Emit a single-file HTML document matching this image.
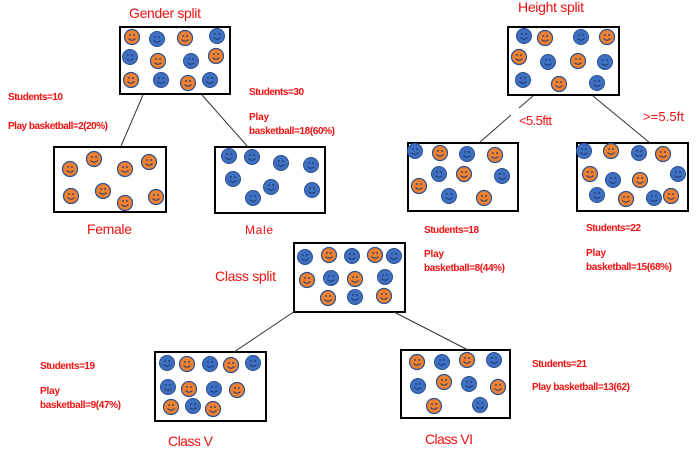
<!DOCTYPE html>
<html><head><meta charset="utf-8"><style>
html,body{margin:0;padding:0;background:#fff}
svg{display:block}
.t{font-family:"Liberation Sans",sans-serif;fill:#f01010}
.s{font-size:10px;font-weight:bold}
.l{font-size:14px}
</style></head><body>
<svg width="700" height="468" viewBox="0 0 700 468" xmlns="http://www.w3.org/2000/svg">
<defs>
<g id="b"><circle r="7.5" fill="#3f6fc1" stroke="#2a4f8f" stroke-width="1"/><circle cx="-2" cy="-2" r="0.9" fill="#1e3a6e"/><circle cx="2" cy="-2" r="0.9" fill="#1e3a6e"/><path d="M-3.5 1.5 Q0 5 3.5 1.5" fill="none" stroke="#1e3a6e" stroke-width="0.9"/></g>
<g id="o"><circle r="7.5" fill="#ee8132" stroke="#2a4f8f" stroke-width="1.2"/><circle cx="-2" cy="-2" r="0.9" fill="#1e3a6e"/><circle cx="2" cy="-2" r="0.9" fill="#1e3a6e"/><path d="M-3.5 1.5 Q0 5 3.5 1.5" fill="none" stroke="#1e3a6e" stroke-width="0.9"/></g>
</defs>
<g fill="none" stroke="#000" stroke-width="2">
<rect x="120" y="27" width="110" height="67"/>
<rect x="54" y="147" width="112" height="65"/>
<rect x="215" y="147" width="110" height="66"/>
<rect x="508" y="27" width="111" height="68"/>
<rect x="408" y="143" width="110" height="68"/>
<rect x="577" y="143" width="111" height="68"/>
<rect x="294" y="243" width="111" height="69"/>
<rect x="155" y="352" width="111" height="69"/>
<rect x="401" y="350" width="109" height="68"/>
</g>
<g stroke="#333" stroke-width="1">
<line x1="143" y1="95" x2="121" y2="146"/>
<line x1="202" y1="95" x2="248" y2="147"/>
<line x1="533" y1="96" x2="519" y2="108"/>
<line x1="511" y1="115" x2="479" y2="143"/>
<line x1="593" y1="96" x2="650" y2="143"/>
<line x1="295" y1="311" x2="234" y2="352"/>
<line x1="394" y1="312" x2="468" y2="350"/>
</g>
<use href="#o" x="132" y="37"/><use href="#b" x="157" y="39"/><use href="#o" x="185" y="38"/><use href="#b" x="217" y="36"/>
<use href="#b" x="130" y="57"/><use href="#o" x="158" y="61"/><use href="#b" x="191" y="61"/><use href="#o" x="216" y="56"/>
<use href="#o" x="131" y="80"/><use href="#b" x="161" y="80"/><use href="#o" x="188" y="83"/><use href="#b" x="210" y="80"/>
<use href="#o" x="70" y="169"/><use href="#o" x="94" y="159"/><use href="#o" x="125" y="169"/><use href="#o" x="149" y="162"/>
<use href="#o" x="71" y="196"/><use href="#o" x="103" y="191"/><use href="#o" x="125" y="203"/><use href="#o" x="156" y="197"/>
<use href="#b" x="229" y="156"/><use href="#b" x="252" y="157"/><use href="#b" x="281" y="163"/><use href="#b" x="311" y="165"/>
<use href="#b" x="233" y="179"/><use href="#b" x="271" y="187"/><use href="#b" x="253" y="198"/><use href="#b" x="312" y="190"/>
<use href="#b" x="524" y="36"/><use href="#o" x="545" y="38"/><use href="#b" x="581" y="37"/><use href="#o" x="607" y="37"/>
<use href="#o" x="519" y="57"/><use href="#b" x="548" y="62"/><use href="#o" x="578" y="61"/><use href="#b" x="605" y="62"/>
<use href="#b" x="523" y="80"/><use href="#o" x="559" y="84"/><use href="#b" x="597" y="83"/>
<use href="#b" x="415" y="151"/><use href="#o" x="440" y="153"/><use href="#b" x="467" y="154"/><use href="#o" x="495" y="155"/>
<use href="#b" x="439" y="174"/><use href="#o" x="464" y="174"/><use href="#b" x="502" y="176"/>
<use href="#o" x="419" y="186"/><use href="#b" x="449" y="196"/><use href="#o" x="484" y="198"/>
<use href="#b" x="584" y="151"/><use href="#o" x="611" y="151"/><use href="#b" x="639" y="153"/><use href="#o" x="663" y="154"/>
<use href="#o" x="590" y="174"/><use href="#b" x="613" y="180"/><use href="#o" x="640" y="180"/><use href="#b" x="678" y="174"/>
<use href="#b" x="597" y="195"/><use href="#o" x="626" y="199"/><use href="#b" x="654" y="198"/><use href="#o" x="671" y="196"/>
<use href="#b" x="305" y="257"/><use href="#o" x="329" y="255"/><use href="#b" x="352" y="256"/><use href="#o" x="375" y="255"/><use href="#b" x="394" y="256"/>
<use href="#o" x="307" y="280"/><use href="#b" x="331" y="278"/><use href="#o" x="355" y="279"/><use href="#b" x="385" y="277"/>
<use href="#o" x="328" y="298"/><use href="#b" x="355" y="297"/><use href="#o" x="384" y="296"/>
<use href="#b" x="167" y="363"/><use href="#o" x="187" y="364"/><use href="#b" x="210" y="364"/><use href="#o" x="231" y="365"/><use href="#b" x="253" y="363"/>
<use href="#b" x="168" y="387"/><use href="#o" x="189" y="389"/><use href="#b" x="214" y="389"/><use href="#o" x="237" y="390"/>
<use href="#o" x="171" y="407"/><use href="#b" x="193" y="406"/><use href="#o" x="213" y="409"/>
<use href="#o" x="417" y="362"/><use href="#b" x="442" y="362"/><use href="#o" x="467" y="360"/><use href="#b" x="494" y="360"/>
<use href="#b" x="418" y="386"/><use href="#o" x="444" y="382"/><use href="#b" x="469" y="384"/><use href="#o" x="498" y="387"/>
<use href="#o" x="434" y="406"/><use href="#b" x="480" y="405"/>

<text class="t l" x="129" y="18" textLength="72">Gender split</text>
<text class="t l" x="518" y="12" textLength="66">Height split</text>
<text class="t l" x="215" y="281" textLength="61">Class split</text>
<text class="t l" x="87" y="234" textLength="45">Female</text>
<text class="t" style="font-size:12px" x="245" y="234" textLength="28">Male</text>
<text class="t" style="font-size:13px" x="519" y="125" textLength="33">&lt;5.5ftt</text>
<text class="t" style="font-size:13px" x="643" y="121" textLength="41">&gt;=5.5ft</text>
<text class="t l" x="168" y="446" textLength="45">Class V</text>
<text class="t l" x="425" y="444" textLength="48">Class VI</text>

<text class="t s" x="8" y="100" textLength="55">Students=10</text>
<text class="t s" x="8" y="129" textLength="100">Play basketball=2(20%)</text>
<text class="t s" x="249" y="95" textLength="55">Students=30</text>
<text class="t s" x="249" y="120" textLength="20">Play</text>
<text class="t s" x="249" y="134" textLength="86">basketball=18(60%)</text>
<text class="t s" x="424" y="233" textLength="55">Students=18</text>
<text class="t s" x="424" y="257" textLength="20">Play</text>
<text class="t s" x="424" y="271" textLength="81">basketball=8(44%)</text>
<text class="t s" x="586" y="231" textLength="55">Students=22</text>
<text class="t s" x="586" y="256" textLength="20">Play</text>
<text class="t s" x="586" y="270" textLength="86">basketball=15(68%)</text>
<text class="t s" x="40" y="369" textLength="55">Students=19</text>
<text class="t s" x="40" y="394" textLength="20">Play</text>
<text class="t s" x="40" y="408" textLength="81">basketball=9(47%)</text>
<text class="t s" x="532" y="367" textLength="55">Students=21</text>
<text class="t s" x="532" y="390" textLength="98">Play basketball=13(62)</text>
</svg>
</body></html>
